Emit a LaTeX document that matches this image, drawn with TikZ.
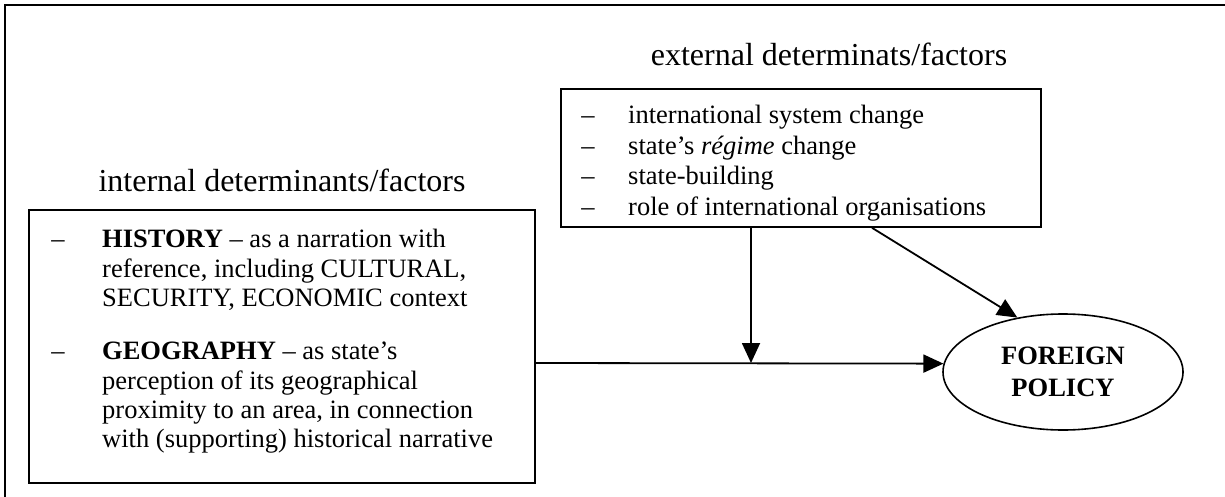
\documentclass[tikz,border=0pt]{standalone}
\usepackage{fontspec}
\setmainfont{Liberation Serif}
\usetikzlibrary{arrows.meta,shapes.geometric}
\begin{document}
\begin{tikzpicture}[x=1pt,y=-1pt,
  frame/.style={line width=1.8pt},
  boxline/.style={draw, line width=1.8pt, inner sep=0pt, anchor=north west},
  body/.style={inner sep=0pt, anchor=base west, font=\fontsize{26.5}{30}\selectfont},
  title/.style={inner sep=0pt, anchor=base, font=\fontsize{32}{36}\selectfont},
  dashmark/.style={inner sep=0pt, anchor=base, font=\fontsize{26.5}{30}\selectfont},
  conn/.style={line width=1.8pt, -{Triangle[length=20pt,width=18pt]}},
  fpnode/.style={draw, ellipse, line width=1.6pt, minimum width=240pt, minimum height=116pt,
    inner sep=0pt, align=center, font=\fontsize{26.5}{32}\selectfont\bfseries},
  ]
\useasboundingbox (0,0) rectangle (1225,497);
% outer frame
\draw[frame] (5,510) -- (5,5) -- (1240,5);

% titles
\node[title] (exttitle) at (829,66) {external determinats/factors};
\node[title] (inttitle) at (282,191) {internal determinants/factors};

% boxes
\node[boxline, minimum width=480pt, minimum height=138pt] (ebox) at (560,88) {};
\node[boxline, minimum width=506pt, minimum height=273pt] (ibox) at (28,209) {};

% external items
\node[dashmark] (ed1) at (588,124) {–};
\node[dashmark] (ed2) at (588,155) {–};
\node[dashmark] (ed3) at (588,185) {–};
\node[dashmark] (ed4) at (588,215) {–};
\node[body] (et1) at (628,124) {international system change};
\node[body] (et2) at (628,155) {state’s \textit{régime} change};
\node[body] (et3) at (628,185) {state-building};
\node[body] (et4) at (628,215) {role of international organisations};

% internal items
\node[dashmark] (id1) at (58,247) {–};
\node[dashmark] (id2) at (58,359) {–};
\node[body] (it1) at (102,247) {\textbf{HISTORY} – as a narration with};
\node[body] (it2) at (102,277) {reference, including CULTURAL,};
\node[body] (it3) at (102,306) {SECURITY, ECONOMIC context};
\node[body] (it4) at (102,359) {\textbf{GEOGRAPHY} – as state’s};
\node[body] (it5) at (102,389) {perception of its geographical};
\node[body] (it6) at (102,418) {proximity to an area, in connection};
\node[body] (it7) at (102,447) {with (supporting) historical narrative};

% foreign policy
\node[fpnode] (fp) at (1063,372) {FOREIGN\\POLICY};

% connectors
\coordinate (hy) at (0,363);
\coordinate (junc) at (751,363);
\coordinate (dx) at (872,0);
\draw[conn] (ibox.east |- hy) -- (fp.176);
\draw[conn] (ebox.south -| junc) -- (junc);
\draw[conn] (ebox.south -| dx) -- (fp.130);
\end{tikzpicture}
\end{document}
